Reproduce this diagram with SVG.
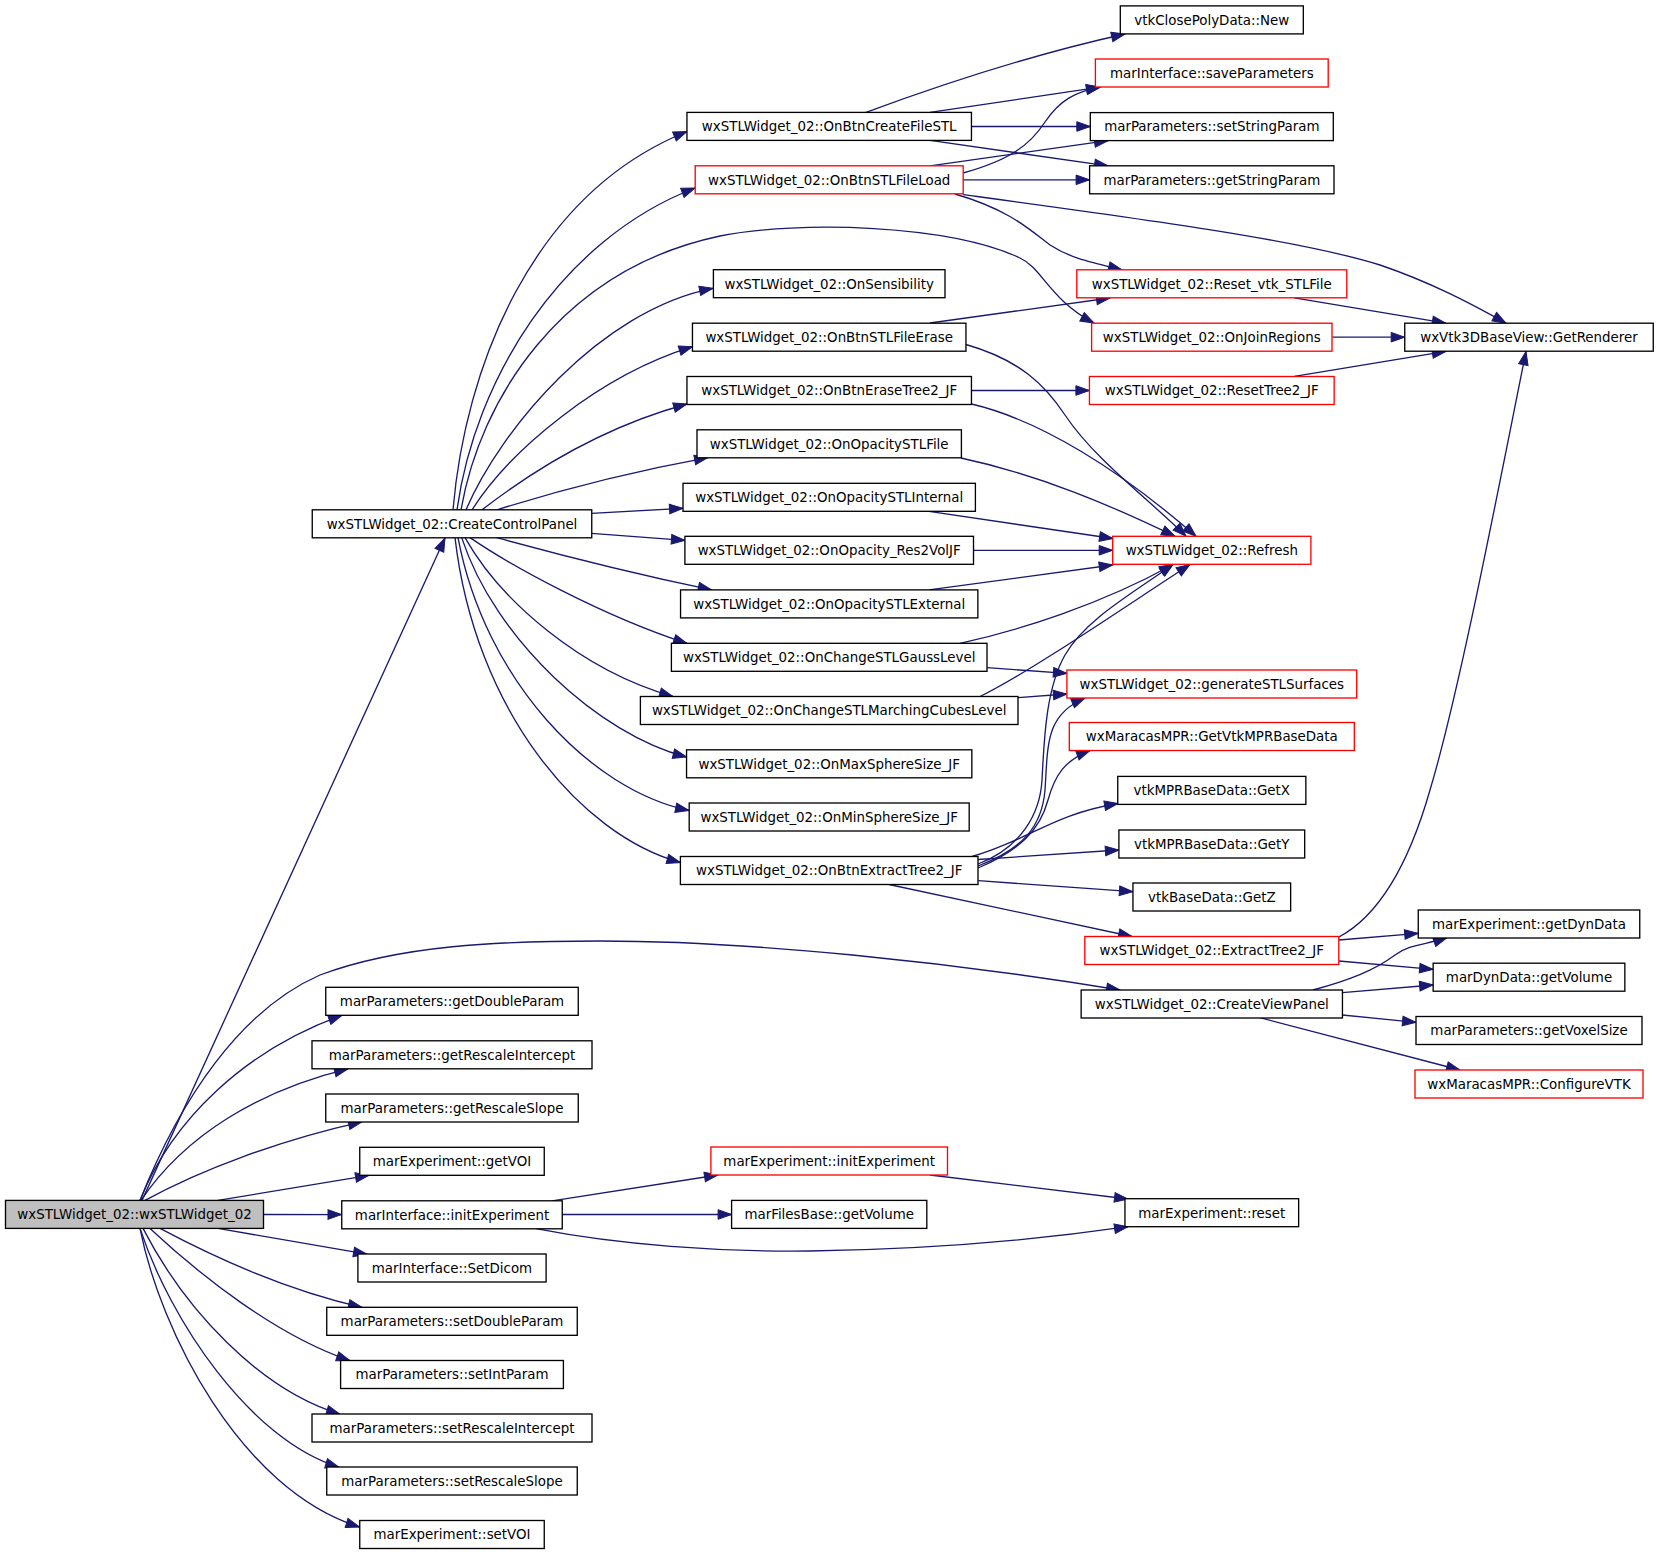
<svg xmlns="http://www.w3.org/2000/svg" width="1659" height="1555" viewBox="0 0 1659 1555">
<style>
.n rect{fill:#fff;stroke:#000;stroke-width:1.33}
.n.r rect{stroke:#ff0000}
.n.g rect{fill:#bfbfbf}
.n text{font-family:"DejaVu Sans",sans-serif;font-size:13.4px;text-anchor:middle;fill:#000}
.e path{fill:none;stroke:#191970;stroke-width:1.33;marker-end:url(#a)}
</style>
<defs>
<marker id="a" markerUnits="userSpaceOnUse" markerWidth="15" markerHeight="12" refX="13.5" refY="6" orient="auto" overflow="visible">
<path d="M0,1.2 L13.5,6 L0,10.8 Z" fill="#191970" stroke="#191970" stroke-width="1"/>
</marker>
</defs>
<rect width="1659" height="1555" fill="#fff"/>
<g id="connectors" class="e">
<path d="M142,1200.4 L445,538"/>
<path d="M140,1200.4 C180,1100 240,1010 320,975 C400,945 500,941 600,941 C750,941 950,962 1120,990"/>
<path d="M140,1200.4 C172,1120 245,1050 342,1015.3"/>
<path d="M141,1200.4 C185,1135 260,1090 348,1068.8"/>
<path d="M145,1200.4 C200,1170 280,1140 362,1121.8"/>
<path d="M218,1200.4 L369,1175.3"/>
<path d="M263.5,1214.5 L341.5,1214.6"/>
<path d="M218,1228.4 L367,1254.2"/>
<path d="M160,1228.4 C210,1255 285,1290 362,1307.3"/>
<path d="M150,1228.4 C200,1275 275,1335 350,1360.7"/>
<path d="M143,1228.4 C185,1310 260,1390 340,1414.2"/>
<path d="M140,1228.4 C170,1320 250,1440 339,1467.2"/>
<path d="M140,1228.4 C160,1330 240,1490 359.5,1527"/>
<path d="M453,509.8 C465,370 530,195 687,131.5"/>
<path d="M457,509.8 C475,380 560,240 695,188"/>
<path d="M461,509.8 C480,400 560,270 720,236 C800,220 950,225 1020,258 C1042,268 1050,300 1094,323"/>
<path d="M466,509.8 C500,430 600,310 713,288.3"/>
<path d="M472,509.8 C510,450 600,375 692.5,346.7"/>
<path d="M482,509.8 C540,465 610,425 687,404"/>
<path d="M497,509.8 C560,490 640,470 708,457.6"/>
<path d="M591.5,513.3 L683,508.3"/>
<path d="M591.5,533.3 L684.9,540.3"/>
<path d="M496.7,537.6 C560,555 640,575 711.7,589.9"/>
<path d="M470,537.6 C510,565 600,615 687,643.5"/>
<path d="M465,537.6 C500,600 580,670 673,696.5"/>
<path d="M461.7,537.6 C495,640 600,735 686.5,757"/>
<path d="M458,537.6 C485,680 590,790 689,810.5"/>
<path d="M455,537.6 C475,710 580,835 680.4,862.5"/>
<path d="M552,1200.8 L718,1175"/>
<path d="M562,1214.5 L731.6,1214.5"/>
<path d="M536,1228.6 C620,1245 720,1252 810,1251 C950,1249 1050,1238 1128,1226.7"/>
<path d="M930,1175 L1128,1199"/>
<path d="M866,112.4 C940,85 1030,55 1125,34"/>
<path d="M930,112.4 L1100,87.2"/>
<path d="M971.5,126.5 L1090.3,126.5"/>
<path d="M930,140.4 L1108,165.9"/>
<path d="M963,173 C1010,160 1030,145 1045,122 C1060,100 1075,92 1100,87.2"/>
<path d="M930,165.8 L1108,140.7"/>
<path d="M963,179.8 L1089.6,179.8"/>
<path d="M955,194 C1010,210 1030,230 1050,245 C1070,258 1090,262 1122,269.8"/>
<path d="M963,194.6 C1150,220 1300,240 1380,265 C1430,282 1470,303 1506,323.2"/>
<path d="M930,323 L1110,298"/>
<path d="M966,344.5 C1020,360 1045,385 1065,415 C1095,460 1150,500 1186,536.3"/>
<path d="M971.5,390.5 L1089.4,390.5"/>
<path d="M971.5,404 C1040,420 1120,470 1196,536.3"/>
<path d="M961,458 C1040,475 1110,505 1175,536.3"/>
<path d="M929,511.4 L1113,538.5"/>
<path d="M973.2,550.3 L1112.7,550.3"/>
<path d="M929,589.9 L1112.7,565"/>
<path d="M960,643.4 C1020,630 1100,605 1173,564.5"/>
<path d="M987,667.7 L1066.9,673.3"/>
<path d="M980,696.5 C1030,672 1120,610 1190,564.5"/>
<path d="M1018,697.7 L1066.9,694"/>
<path d="M978,864 C1020,848 1040,815 1042,780 C1044,745 1045,690 1065,655 C1085,620 1130,595 1173,564.5"/>
<path d="M978,866 C1025,848 1042,825 1045,790 C1048,745 1045,715 1085,698"/>
<path d="M978,868 C1020,850 1040,830 1048,800 C1055,775 1065,760 1090,750.6"/>
<path d="M972,856.5 C1030,840 1050,815 1118,803.5"/>
<path d="M978.3,859.5 L1118.9,850"/>
<path d="M978.3,880.7 L1132.9,891.7"/>
<path d="M889,884.5 L1132,936.5"/>
<path d="M1294.3,297.9 L1445.8,323.2"/>
<path d="M1332.4,337.2 L1404.7,337.2"/>
<path d="M1294.3,376.4 L1445.8,351.4"/>
<path d="M1339,937 C1380,915 1410,860 1430,790 C1460,690 1500,480 1526,351.4"/>
<path d="M1339,940 L1418.2,933.3"/>
<path d="M1339,961 L1433.1,969.3"/>
<path d="M1313,990 C1350,980 1375,970 1395,955 C1410,944 1425,945 1447,937.7"/>
<path d="M1342.3,992.7 L1433.1,985"/>
<path d="M1342.3,1015 L1416,1022.3"/>
<path d="M1260,1017.7 L1460,1070"/>
</g>
<g id="n_root" class="n g"><rect x="5.5" y="1200.4" width="258" height="28"/><text x="134.5" y="1219.2">wxSTLWidget_02::wxSTLWidget_02</text></g>
<g id="n_ccp" class="n"><rect x="312.25" y="509.8" width="279.5" height="28"/><text x="452" y="528.6">wxSTLWidget_02::CreateControlPanel</text></g>
<g id="n_gdp" class="n"><rect x="325.75" y="987.3" width="252.5" height="28"/><text x="452" y="1006.1">marParameters::getDoubleParam</text></g>
<g id="n_gri" class="n"><rect x="312" y="1040.8" width="280" height="28"/><text x="452" y="1059.6">marParameters::getRescaleIntercept</text></g>
<g id="n_grs" class="n"><rect x="325.75" y="1094" width="252.5" height="28"/><text x="452" y="1112.8">marParameters::getRescaleSlope</text></g>
<g id="n_gvoi" class="n"><rect x="359.75" y="1147.3" width="184.5" height="28"/><text x="452" y="1166.1">marExperiment::getVOI</text></g>
<g id="n_mie" class="n"><rect x="341.75" y="1200.8" width="220.5" height="28"/><text x="452" y="1219.6">marInterface::initExperiment</text></g>
<g id="n_sd" class="n"><rect x="357.9" y="1254" width="188.2" height="28"/><text x="452" y="1272.8">marInterface::SetDicom</text></g>
<g id="n_sdp" class="n"><rect x="326.75" y="1307.3" width="250.5" height="28"/><text x="452" y="1326.1">marParameters::setDoubleParam</text></g>
<g id="n_sip" class="n"><rect x="340.6" y="1360.5" width="222.8" height="28"/><text x="452" y="1379.3">marParameters::setIntParam</text></g>
<g id="n_sri" class="n"><rect x="312" y="1414" width="280" height="28"/><text x="452" y="1432.8">marParameters::setRescaleIntercept</text></g>
<g id="n_srs" class="n"><rect x="326.75" y="1467" width="250.5" height="28"/><text x="452" y="1485.8">marParameters::setRescaleSlope</text></g>
<g id="n_svoi" class="n"><rect x="359.75" y="1520.5" width="184.5" height="28"/><text x="452" y="1539.3">marExperiment::setVOI</text></g>
<g id="n_cfs" class="n"><rect x="686.95" y="112.4" width="284.5" height="28"/><text x="829.2" y="131.2">wxSTLWidget_02::OnBtnCreateFileSTL</text></g>
<g id="n_load" class="n r"><rect x="695.2" y="165.8" width="268" height="28"/><text x="829.2" y="184.6">wxSTLWidget_02::OnBtnSTLFileLoad</text></g>
<g id="n_sens" class="n"><rect x="713.4" y="269.7" width="231.6" height="28"/><text x="829.2" y="288.5">wxSTLWidget_02::OnSensibility</text></g>
<g id="n_erase" class="n"><rect x="692.45" y="323.2" width="273.5" height="28"/><text x="829.2" y="342">wxSTLWidget_02::OnBtnSTLFileErase</text></g>
<g id="n_et2" class="n"><rect x="686.95" y="376.5" width="284.5" height="28"/><text x="829.2" y="395.3">wxSTLWidget_02::OnBtnEraseTree2_JF</text></g>
<g id="n_opf" class="n"><rect x="697" y="429.8" width="264.4" height="28"/><text x="829.2" y="448.6">wxSTLWidget_02::OnOpacitySTLFile</text></g>
<g id="n_opi" class="n"><rect x="683" y="483.3" width="292.4" height="28"/><text x="829.2" y="502.1">wxSTLWidget_02::OnOpacitySTLInternal</text></g>
<g id="n_res" class="n"><rect x="684.9" y="536.3" width="288.6" height="28"/><text x="829.2" y="555.1">wxSTLWidget_02::OnOpacity_Res2VolJF</text></g>
<g id="n_ext" class="n"><rect x="680.55" y="589.9" width="297.3" height="28"/><text x="829.2" y="608.7">wxSTLWidget_02::OnOpacitySTLExternal</text></g>
<g id="n_gauss" class="n"><rect x="671.4" y="643.3" width="315.6" height="28"/><text x="829.2" y="662.1">wxSTLWidget_02::OnChangeSTLGaussLevel</text></g>
<g id="n_march" class="n"><rect x="640.4" y="696.5" width="377.6" height="28"/><text x="829.2" y="715.3">wxSTLWidget_02::OnChangeSTLMarchingCubesLevel</text></g>
<g id="n_max" class="n"><rect x="686.55" y="749.8" width="285.3" height="28"/><text x="829.2" y="768.6">wxSTLWidget_02::OnMaxSphereSize_JF</text></g>
<g id="n_min" class="n"><rect x="689.2" y="803" width="280" height="28"/><text x="829.2" y="821.8">wxSTLWidget_02::OnMinSphereSize_JF</text></g>
<g id="n_ext2" class="n"><rect x="680.4" y="856.5" width="297.6" height="28"/><text x="829.2" y="875.3">wxSTLWidget_02::OnBtnExtractTree2_JF</text></g>
<g id="n_mexp" class="n r"><rect x="710.9" y="1147" width="236.6" height="28"/><text x="829.2" y="1165.8">marExperiment::initExperiment</text></g>
<g id="n_fgv" class="n"><rect x="731.6" y="1200.4" width="195.2" height="28"/><text x="829.2" y="1219.2">marFilesBase::getVolume</text></g>
<g id="n_new" class="n"><rect x="1120.3" y="5.9" width="183" height="28"/><text x="1211.8" y="24.7">vtkClosePolyData::New</text></g>
<g id="n_save" class="n r"><rect x="1095.4" y="59" width="232.8" height="28"/><text x="1211.8" y="77.8">marInterface::saveParameters</text></g>
<g id="n_set" class="n"><rect x="1090.3" y="112.6" width="243" height="28"/><text x="1211.8" y="131.4">marParameters::setStringParam</text></g>
<g id="n_get" class="n"><rect x="1089.6" y="165.8" width="244.4" height="28"/><text x="1211.8" y="184.6">marParameters::getStringParam</text></g>
<g id="n_rvtk" class="n r"><rect x="1076.8" y="269.8" width="270" height="28"/><text x="1211.8" y="288.6">wxSTLWidget_02::Reset_vtk_STLFile</text></g>
<g id="n_join" class="n r"><rect x="1091.6" y="323.2" width="240.4" height="28"/><text x="1211.8" y="342">wxSTLWidget_02::OnJoinRegions</text></g>
<g id="n_rt2" class="n r"><rect x="1089.45" y="376.5" width="244.7" height="28"/><text x="1211.8" y="395.3">wxSTLWidget_02::ResetTree2_JF</text></g>
<g id="n_refresh" class="n r"><rect x="1112.7" y="536.3" width="198.2" height="28"/><text x="1211.8" y="555.1">wxSTLWidget_02::Refresh</text></g>
<g id="n_gen" class="n r"><rect x="1066.9" y="670" width="289.8" height="28"/><text x="1211.8" y="688.8">wxSTLWidget_02::generateSTLSurfaces</text></g>
<g id="n_mpr" class="n r"><rect x="1069.3" y="722.5" width="285" height="28"/><text x="1211.8" y="741.3">wxMaracasMPR::GetVtkMPRBaseData</text></g>
<g id="n_gx" class="n"><rect x="1117.75" y="776.4" width="188.1" height="28"/><text x="1211.8" y="795.2">vtkMPRBaseData::GetX</text></g>
<g id="n_gy" class="n"><rect x="1118.9" y="830" width="185.8" height="28"/><text x="1211.8" y="848.8">vtkMPRBaseData::GetY</text></g>
<g id="n_gz" class="n"><rect x="1132.95" y="883" width="157.7" height="28"/><text x="1211.8" y="901.8">vtkBaseData::GetZ</text></g>
<g id="n_et2jf" class="n r"><rect x="1084.8" y="936.5" width="254" height="28"/><text x="1211.8" y="955.3">wxSTLWidget_02::ExtractTree2_JF</text></g>
<g id="n_cvp" class="n"><rect x="1081.15" y="990" width="261.3" height="28"/><text x="1211.8" y="1008.8">wxSTLWidget_02::CreateViewPanel</text></g>
<g id="n_reset" class="n"><rect x="1124.95" y="1198.7" width="173.7" height="28"/><text x="1211.8" y="1217.5">marExperiment::reset</text></g>
<g id="n_rend" class="n"><rect x="1404.75" y="323.2" width="248.5" height="28"/><text x="1529" y="342">wxVtk3DBaseView::GetRenderer</text></g>
<g id="n_dyn" class="n"><rect x="1418.25" y="910" width="221.5" height="28"/><text x="1529" y="928.8">marExperiment::getDynData</text></g>
<g id="n_vol" class="n"><rect x="1433.15" y="963.2" width="191.7" height="28"/><text x="1529" y="982">marDynData::getVolume</text></g>
<g id="n_vox" class="n"><rect x="1416" y="1016.5" width="226" height="28"/><text x="1529" y="1035.3">marParameters::getVoxelSize</text></g>
<g id="n_cfg" class="n r"><rect x="1415" y="1070" width="228" height="28"/><text x="1529" y="1088.8">wxMaracasMPR::ConfigureVTK</text></g>
</svg>
